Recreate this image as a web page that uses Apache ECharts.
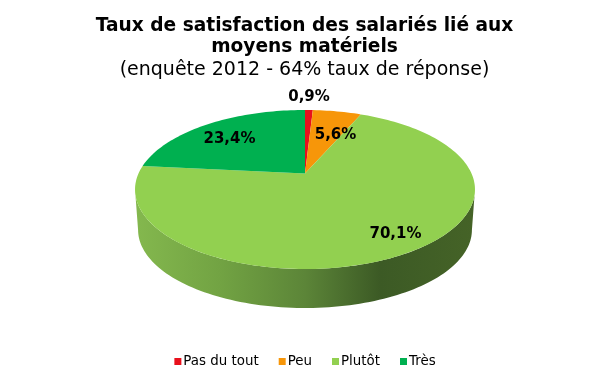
<!DOCTYPE html>
<html><head><meta charset="utf-8">
<style>html,body{margin:0;padding:0;background:#fff}#c{width:610px;height:387px}</style>
<script src="https://cdn.jsdelivr.net/npm/echarts@6/dist/echarts.min.js"></script>
</head><body><div id="c"></div>
<script>
const categories = ['Pas du tout', 'Peu', 'Plutôt', 'Très'];
const values = [0.9, 5.6, 70.1, 23.4];
const labels = ['0,9%', '5,6%', '70,1%', '23,4%'];
const colors = ['#e8101c', '#f79609', '#92d050', '#00b050'];

// layout of the perspective disc
const APEX = [305, 173.5], A = 166.5, B = 76.3, K = 0.2012;
const DEPTH_SCALE = 0.982, BOTTOM_APEX_Y = 214.2;
const LABEL_POS = [[309, 97.5], [335.5, 135], [395.5, 234], [229.5, 139]];
const FONT = 'DejaVu Sans';

function project(deg, r, apexY, s) {
  const t = deg * Math.PI / 180;
  const w = 1 + K * r * Math.cos(t);
  return [APEX[0] + s * A * r * Math.sin(t) / w, apexY - s * B * r * Math.cos(t) / w];
}
const total = values.reduce((a, b) => a + b, 0);
function startDeg(i) {
  let c = 0;
  for (let j = 0; j < i; j++) c += values[j];
  return c / total * 360;
}
function arc(from, to, apexY, s) {
  const n = Math.max(2, Math.ceil(Math.abs(to - from) / 1.5));
  const pts = [];
  for (let i = 0; i <= n; i++) pts.push(project(from + (to - from) * i / n, 1, apexY, s));
  return pts;
}
// angle at which the disc's outline reaches its widest point
const EDGE = 180 - Math.acos(K) * 180 / Math.PI;

const wall = {
  type: 'custom', silent: true, z: 1, coordinateSystem: 'none',
  data: [values[2]],
  renderItem: function () {
    const from = Math.max(startDeg(2), EDGE);
    const to = Math.min(startDeg(2) + values[2] / total * 360, 360 - EDGE);
    const pts = arc(from, to, APEX[1], 1).concat(arc(to, from, BOTTOM_APEX_Y, DEPTH_SCALE));
    return {
      type: 'polygon',
      shape: { points: pts },
      style: {
        fill: new echarts.graphic.LinearGradient(0, 0, 1, 0, [
          { offset: 0, color: '#84b84e' },
          { offset: 0.25, color: '#72a343' },
          { offset: 0.5, color: '#5c8538' },
          { offset: 0.72, color: '#3c5a25' },
          { offset: 1, color: '#456327' }
        ])
      }
    };
  }
};

const slices = categories.map(function (name, idx) {
  return {
    type: 'custom', name: name, z: 2, coordinateSystem: 'none',
    itemStyle: { color: colors[idx] },
    data: [values[idx]],
    renderItem: function (params, api) {
      const from = startDeg(idx);
      const to = from + api.value(0) / total * 360;
      const pts = [APEX].concat(arc(from, to, APEX[1], 1));
      return {
        type: 'group',
        children: [
          { type: 'polygon', shape: { points: pts }, style: { fill: colors[idx] } },
          { type: 'text', z2: 10,
            style: { text: labels[idx], x: LABEL_POS[idx][0], y: LABEL_POS[idx][1],
              align: 'center', verticalAlign: 'middle',
              font: 'bold 15px "' + FONT + '"', fill: '#000' } }
        ]
      };
    }
  };
});

const chart = echarts.init(document.getElementById('c'), null, { renderer: 'canvas' });
chart.setOption({
  backgroundColor: '#fff',
  animation: false,
  title: [
    { text: 'Taux de satisfaction des salariés lié aux\nmoyens matériels', left: 299.5, top: 11, textAlign: 'center',
      textStyle: { fontFamily: FONT, fontSize: 18.6, fontWeight: 'bold', color: '#000', lineHeight: 21 } },
    { text: '(enquête 2012 - 64% taux de réponse)', left: 299.5, top: 56, textAlign: 'center',
      textStyle: { fontFamily: FONT, fontSize: 19, fontWeight: 'normal', color: '#000' } }
  ],
  legend: {
    data: categories, left: 'center', top: 350, itemWidth: 7, itemHeight: 7, itemGap: 20,
    icon: 'rect', textStyle: { fontFamily: FONT, fontSize: 13.4, color: '#000', padding: [0, 0, 0, -3] }
  },
  series: [wall].concat(slices)
});
</script></body></html>
